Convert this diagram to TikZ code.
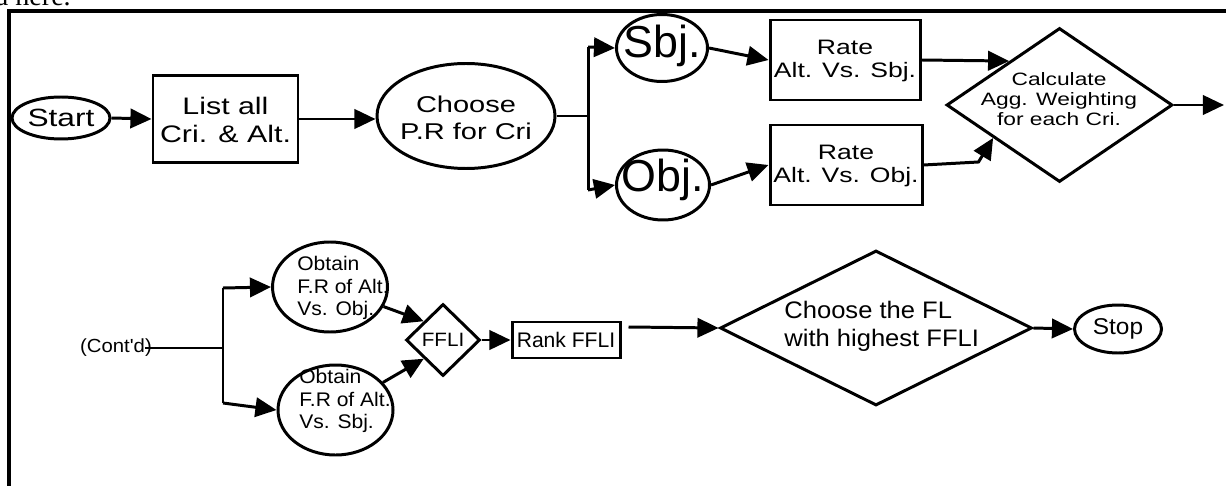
\documentclass[tikz,border=0pt]{standalone}
\usepackage{fontspec}
\setmainfont{Liberation Sans}
\newfontfamily\ft{Liberation Sans}[FakeStretch=1.27]
\newfontfamily\fb{Liberation Sans}[FakeStretch=1.07]
\newfontfamily\fserif{Liberation Serif}
\usetikzlibrary{shapes.geometric,arrows.meta,calc}
\newcommand\pxu{0.02cm}
\begin{document}
\begin{tikzpicture}[x=0.02cm,y=-0.02cm,
 shp/.style={draw, inner sep=0pt, line width=1.7pt},
 ell/.style={shp, ellipse},
 box/.style={shp, rectangle},
 dia/.style={shp, diamond},
 txt/.style={inner sep=0pt, align=center},
 ltxt/.style={inner sep=0pt, align=left, anchor=west},
 arr/.style={-{Triangle[length=12pt,width=11pt]}, line width=1.7pt},
 ln/.style={line width=1.7pt},
]
\useasboundingbox (0,0) rectangle (1226,486);
% cut-off text above the frame
\node[anchor=base west, inner sep=0pt, font=\fserif\fontsize{16}{19}\selectfont] (cut) at (-4.5,6) {a here.};
% frame
\draw[line width=2.3pt] (9,492) -- (9,11) -- (1232,11);

% top row
\node[ell, minimum width=98*\pxu, minimum height=42*\pxu] (start) at (61,118) {};
\node[txt, font=\ft\fontsize{14.2}{16}\selectfont] (startt) at (start) {Start};
\node[box, minimum width=145*\pxu, minimum height=87*\pxu] (list) at (225.5,119) {};
\node[txt, font=\ft\fontsize{13.6}{15.9}\selectfont] (listt) at (225.5,120) {List all\\Cri. \& Alt.};
\node[ell, minimum width=178*\pxu, minimum height=105*\pxu] (choose) at (466,116) {};
\node[txt, font=\ft\fontsize{13}{15.3}\selectfont] (chooset) at (466,118) {Choose\\P.R for Cri};
\coordinate (br1) at (588,116);
\coordinate (br1a) at (588,47);
\coordinate (br1b) at (588,190);
\node[ell, minimum width=91*\pxu, minimum height=67*\pxu] (sbj) at (662,48) {};
\node[txt, font=\fontsize{25.5}{28}\selectfont] (sbjt) at (662,46) {Sbj.};
\node[ell, minimum width=93*\pxu, minimum height=70*\pxu] (obj) at (663,185) {};
\node[txt, font=\fontsize{25.5}{28}\selectfont] (objt) at (663,180) {Obj.};
\node[box, minimum width=150*\pxu, minimum height=80*\pxu] (rate1) at (845,60) {};
\node[txt, font=\ft\fontsize{11.9}{13}\selectfont] (rate1t) at (845,61) {Rate\\Alt. Vs. Sbj.};
\node[box, minimum width=152*\pxu, minimum height=80*\pxu] (rate2) at (846,165) {};
\node[txt, font=\ft\fontsize{11.9}{13}\selectfont] (rate2t) at (846,166) {Rate\\Alt. Vs. Obj.};
\node[dia, minimum width=226*\pxu, minimum height=154*\pxu] (calc) at (1059.5,105) {};
\node[txt, font=\ft\fontsize{10.2}{11.3}\selectfont] (calct) at (1059,99) {Calculate\\Agg. Weighting\\for each Cri.};
\coordinate (outend) at (1224,105);

\draw[arr] (start.east) -- (list.west);
\draw[arr] (list.east) -- (list.east -| choose.west);
\draw[ln] (choose.east) -- (br1);
\draw[ln] (br1a) -- (br1b);
\draw[arr] (br1a) -- (sbj.west);
\draw[arr] (br1b) -- (obj.west);
\draw[arr] (sbj.east) -- (rate1.west);
\draw[arr] (obj.east) -- (rate2.west);
\draw[arr] (rate1.east) -- ($(calc.west)!0.56!(calc.north)$);
\draw[arr] (rate2.east) -- ++(55,-3) -- ($(calc.west)!0.42!(calc.south)$);
\draw[arr] (calc.east) -- (outend);

% bottom row
\node[txt, font=\fb\fontsize{10.8}{13}\selectfont] (contd) at (116,348) {(Cont'd)};
\coordinate (br2) at (223,348);
\coordinate (br2a) at (223,288);
\coordinate (br2b) at (223,403);
\node[ell, minimum width=115*\pxu, minimum height=90*\pxu] (ob1) at (330,287) {};
\node[ltxt, font=\fb\fontsize{11.2}{12.8}\selectfont] (ob1t) at (297,288) {Obtain\\F.R of Alt.\\Vs. Obj.};
\node[ell, minimum width=115*\pxu, minimum height=90*\pxu] (ob2) at (335.5,410) {};
\node[ltxt, font=\fb\fontsize{11.2}{12.8}\selectfont] (ob2t) at (299,401) {Obtain\\F.R of Alt.\\Vs. Sbj.};
\node[dia, minimum width=74*\pxu, minimum height=72*\pxu] (ffli) at (443,340) {};
\node[txt, font=\fb\fontsize{11}{12}\selectfont] (fflit) at (443,340) {FFLI};
\node[box, minimum width=108*\pxu, minimum height=36*\pxu] (rank) at (566,340) {};
\node[txt, font=\fontsize{12}{13}\selectfont] (rankt) at (566,340) {Rank FFLI};
\node[dia, minimum width=312*\pxu, minimum height=155*\pxu] (fl) at (876,328) {};
\node[ltxt, font=\fb\fontsize{13.6}{15.9}\selectfont] (flt) at (784,326) {Choose the FL\\with highest FFLI};
\node[ell, minimum width=87*\pxu, minimum height=48*\pxu] (stop) at (1118,329) {};
\node[txt, font=\fb\fontsize{13}{15}\selectfont] (stopt) at (1118,329) {Stop};

\draw[ln] ([xshift=-0.14cm]contd.east) -- (br2);
\draw[ln] (br2a) -- (br2b);
\draw[arr] (br2a) -- (ob1.west);
\draw[arr] (br2b) -- (ob2.west);
\draw[arr] (ob1) -- (ffli.north west);
\draw[arr] (ob2) -- (ffli.south west);
\draw[arr] (ffli.east) -- (rank.west);
\draw[arr] ($(rank.east)+(7,-13)$) -- (fl.west);
\draw[arr] (fl.east) -- (stop.west);
\end{tikzpicture}
\end{document}
